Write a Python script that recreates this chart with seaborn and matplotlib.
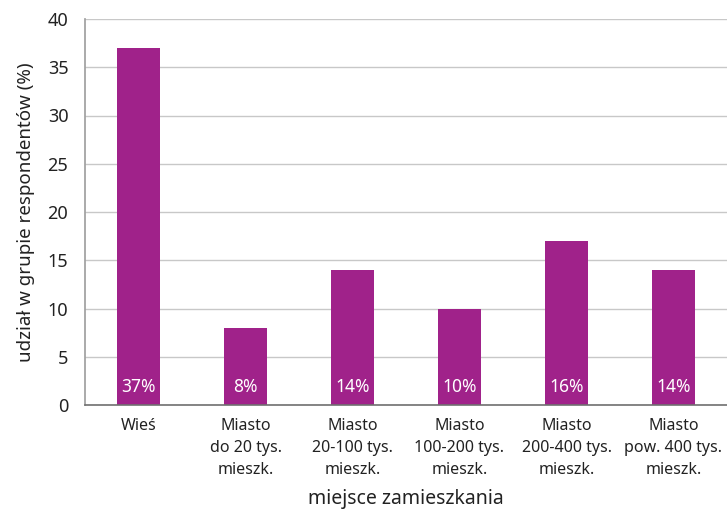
import matplotlib
matplotlib.use("Agg")
import matplotlib.pyplot as plt
import seaborn as sns
import pandas as pd

categories = ["Wieś", "Miasto\ndo 20 tys.\nmieszk.", "Miasto\n20-100 tys.\nmieszk.",
              "Miasto\n100-200 tys.\nmieszk.", "Miasto\n200-400 tys.\nmieszk.",
              "Miasto\npow. 400 tys.\nmieszk."]
values = [37, 8, 14, 10, 17, 14]
value_labels = ["37%", "8%", "14%", "10%", "16%", "14%"]
y_ticks = [0, 5, 10, 15, 20, 25, 30, 35, 40]

sns.set_theme(style="white")
plt.rcParams['font.family'] = ['Noto Sans', 'DejaVu Sans']

df = pd.DataFrame({"kat": categories, "val": values})

fig = plt.figure(figsize=(7.27, 5.14), dpi=100)
ax = fig.add_axes([85/727, (514-405)/514, 1 - 85/727, (405-19)/514])

color = "#A0228A"
sns.barplot(data=df, x="kat", y="val", color=color, saturation=1, width=0.4,
            linewidth=0, edgecolor="none", ax=ax)

for i, lab in enumerate(value_labels):
    ax.text(i, 1.9, lab, ha="center", va="center", color="white", fontsize=12.5)

ax.set_ylim(0, 40)
ax.set_yticks(y_ticks)
ax.set_xlim(-0.5, len(categories) - 0.5)
ax.yaxis.grid(True, color="#c8c8c8", linewidth=1)
ax.set_axisbelow(True)
for s in ["top", "right"]:
    ax.spines[s].set_visible(False)
ax.spines["left"].set_color("#a0a0a0")
ax.spines["bottom"].set_color("#707070")
ax.spines["bottom"].set_linewidth(1.2)
ax.tick_params(axis="y", length=0, pad=12, labelsize=13, labelcolor="#222222")
ax.tick_params(axis="x", length=0, pad=9, labelsize=11.5, labelcolor="#222222")
for t in ax.get_xticklabels():
    t.set_linespacing(1.5)
ax.set_ylabel("udział w grupie respondentów (%)", fontsize=13.5, color="#222222", labelpad=9)
ax.set_xlabel("miejsce zamieszkania", fontsize=14, color="#222222", labelpad=8)

fig.savefig("out.png", dpi=100)
